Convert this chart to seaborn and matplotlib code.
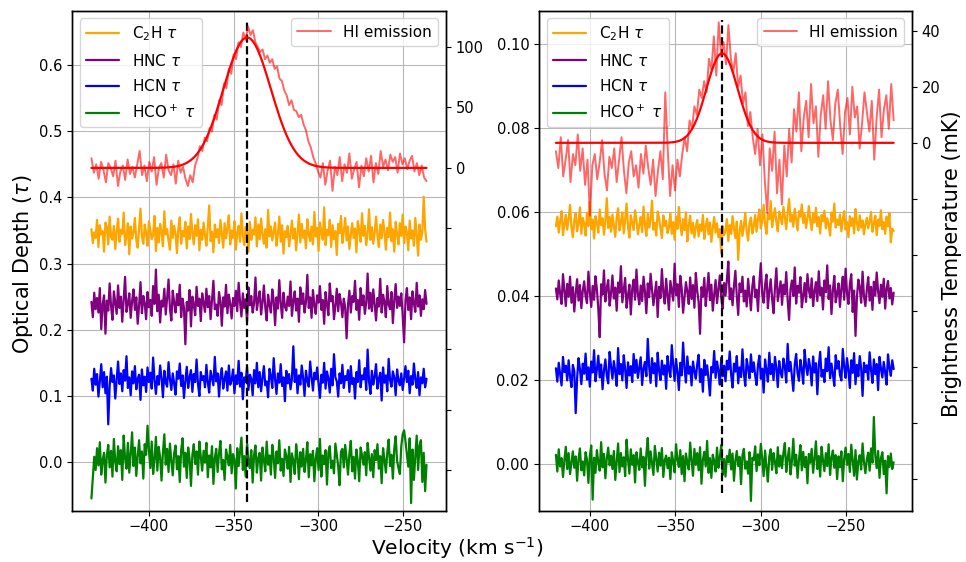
import numpy as np
import pandas as pd
import matplotlib
matplotlib.use("Agg")
import matplotlib.pyplot as plt
import seaborn as sns
from matplotlib.ticker import FuncFormatter, MultipleLocator

# ---------------------------------------------------------------------------
# Spectra. Optical depths are stored as integers: left source in units of
# 1e-3, right source in units of 1e-4. HI brightness temperature in mK.
# ---------------------------------------------------------------------------
VEL_LEFT = (-434.0, -236.0)     # first / last channel velocity (km/s)
VEL_RIGHT = (-420.0, -222.0)

C2H_LEFT = [
    352, 331, 347, 339, 366, 325, 358, 344, 349, 318, 362, 355, 329, 371, 340, 336, 357, 322, 348, 368,
    333, 351, 345, 377, 328, 342, 361, 314, 356, 338, 347, 369, 335, 324, 353, 383, 341, 330, 359, 346,
    327, 364, 350, 337, 343, 372, 319, 354, 332, 360, 348, 326, 379, 344, 352, 334, 321, 365, 339, 357,
    345, 316, 353, 370, 330, 349, 341, 363, 323, 356, 337, 375, 346, 329, 358, 342, 367, 320, 351, 336,
    362, 343, 327, 355, 388, 334, 348, 317, 359, 340, 352, 331, 366, 345, 324, 361, 338, 354, 373, 329,
    350, 339, 364, 321, 346, 357, 333, 376, 342, 328, 355, 347, 318, 363, 336, 351, 344, 370, 326, 359,
    337, 368, 345, 330, 352, 324, 381, 341, 356, 335, 348, 362, 327, 344, 371, 333, 358, 315, 349, 340,
    357, 326, 343, 365, 338, 353, 320, 347, 374, 332, 360, 339, 350, 323, 367, 345, 334, 356, 329, 378,
    341, 354, 319, 362, 347, 336, 385, 328, 351, 343, 366, 325, 358, 337, 349, 313, 360, 346, 372, 331,
    348, 369, 335, 356, 322, 344, 361, 339, 353, 317, 364, 350, 333, 376, 342, 357, 328, 345, 382, 336,
    355, 330, 347, 371, 343, 325, 359, 338, 366, 349, 321, 354, 340, 377, 334, 352, 318, 363, 345, 329,
    361, 342, 374, 331, 356, 347, 320, 365, 338, 350, 327, 369, 344, 312, 359, 336, 348, 401, 352, 333,
]
HNC_LEFT = [
    242, 219, 256, 231, 248, 226, 263, 201, 238, 252, 194, 244, 229, 270, 236, 215, 258, 241, 224, 267,
    233, 250, 212, 246, 280, 227, 239, 255, 218, 243, 261, 230, 249, 209, 237, 272, 225, 251, 240, 216,
    257, 234, 245, 221, 266, 239, 291, 228, 253, 211, 244, 235, 262, 223, 248, 276, 232, 214, 259, 241,
    226, 254, 237, 268, 219, 247, 233, 178, 242, 229, 260, 205, 250, 238, 222, 265, 236, 247, 213, 255,
    240, 227, 262, 234, 251, 216, 245, 274, 231, 238, 221, 257, 243, 206, 249, 235, 268, 225, 253, 239,
    217, 248, 236, 259, 228, 271, 242, 220, 255, 233, 246, 212, 264, 237, 251, 226, 240, 279, 230, 245,
    258, 223, 241, 267, 234, 214, 253, 238, 226, 261, 244, 207, 249, 232, 275, 240, 218, 256, 235, 229,
    250, 236, 273, 221, 243, 258, 229, 247, 212, 264, 239, 255, 226, 242, 283, 233, 249, 218, 260, 237,
    224, 252, 241, 266, 230, 245, 209, 257, 238, 222, 270, 243, 251, 216, 236, 262, 228, 254, 241, 219,
    247, 233, 187, 238, 259, 226, 251, 242, 274, 230, 245, 215, 263, 237, 252, 224, 241, 285, 232, 256,
    228, 261, 239, 214, 248, 235, 277, 226, 253, 242, 219, 266, 238, 231, 257, 210, 245, 269, 233, 250,
    236, 255, 222, 181, 244, 263, 230, 249, 216, 258, 240, 227, 271, 235, 252, 221, 246, 231, 260, 239,
]
HCN_LEFT = [
    126, 108, 141, 117, 133, 99, 122, 148, 113, 136, 104, 129, 57, 115, 142, 121, 131, 96, 125, 152,
    118, 134, 107, 139, 123, 160, 112, 128, 101, 137, 119, 145, 110, 126, 132, 94, 140, 116, 129, 106,
    143, 121, 135, 111, 158, 124, 103, 130, 117, 146, 127, 98, 138, 120, 114, 151, 125, 109, 134, 119,
    102, 137, 126, 149, 115, 131, 97, 123, 144, 112, 128, 139, 106, 133, 121, 155, 118, 100, 136, 124,
    130, 113, 147, 120, 105, 138, 127, 116, 159, 122, 134, 99, 129, 142, 111, 125, 137, 108, 146, 117,
    124, 140, 104, 131, 118, 153, 114, 135, 95, 128, 121, 144, 109, 132, 126, 101, 139, 119, 150, 113,
    136, 107, 127, 145, 116, 122, 98, 141, 130, 112, 157, 125, 103, 134, 120, 148, 115, 128, 92, 138,
    119, 133, 110, 126, 175, 121, 140, 104, 131, 117, 146, 127, 100, 138, 123, 114, 152, 129, 108, 135,
    125, 143, 118, 97, 132, 120, 150, 111, 137, 126, 105, 141, 116, 163, 128, 122, 99, 134, 119, 147,
    112, 130, 124, 139, 106, 145, 118, 127, 96, 136, 121, 154, 113, 131, 125, 142, 109, 170, 122, 103,
    138, 117, 129, 148, 111, 126, 135, 93, 143, 120, 131, 107, 156, 124, 114, 137, 128, 101, 140, 123,
    116, 134, 109, 127, 145, 121, 138, 104, 130, 117, 149, 125, 112, 136, 101, 128, 119, 141, 113, 126,
]
HCOP_LEFT = [
    -55, -24, 8, -12, 21, -5, 30, -19, 3, 14, -31, 10, 26, -8, 17, -22, 35, 1, -14, 24,
    -3, 18, -27, 40, 6, -10, 29, -16, 12, 45, -6, 22, -21, 9, 33, -2, 16, -25, 27, 11,
    55, 19, -9, 31, -18, 4, 38, -13, 23, 7, -28, 15, 42, -4, 20, -15, 28, 2, -20, 13,
    25, -11, 9, -30, 18, 36, -7, 14, -24, 22, 5, -36, 11, 27, -3, 16, -19, 31, 8, -13,
    17, -1, 29, -23, 10, -8, 24, -33, 6, 20, -15, 13, 32, -11, 3, -27, 19, 8, -5, 26,
    -17, 12, 4, -40, 21, -6, 15, 37, -12, 9, -22, 28, 1, -9, 18, -31, 11, 25, -16, 6,
    14, -28, 22, 3, -14, 31, -4, 10, -19, 26, 7, -24, 16, -2, 33, -13, 5, -21, 19, 9,
    -10, 23, -30, 13, 2, -18, 27, 8, -26, 15, -7, 20, -15, 4, 30, -23, 12, -5, 17, -29,
    6, 21, -12, 35, -22, 10, -3, 18, -34, 14, 24, -9, 2, -17, 28, 11, -6, -35, 16, 20,
    -8, 26, 5, -19, 13, 32, -14, 8, -25, 19, 1, -29, 22, 10, -4, 15, -20, 29, 7, -13,
    12, -23, 18, 3, 27, -10, 9, -32, 21, 4, -16, 14, 34, -6, 11, -25, 20, 39, 2, -9,
    -18, 24, 42, 48, 31, 12, -7, 36, -62, 19, -27, 9, 40, -12, 25, 33, -30, 14, -44, -4,
]
HI_LEFT = [
    8, -4, 3, -9, 5, -2, -12, 4, 0, -7, 6, -15, -3, 2, -10, 7, -5, 1, -8, 3,
    14, -6, 2, -11, 5, -3, 9, -14, 0, 4, -8, 11, -2, -6, 3, -13, 6, -4, 1, -9,
    -15, -6, -12, 2, 8,
    18, 14, 25, 22, 33, 30, 44, 40, 56, 52, 70, 66, 82, 78, 94, 90, 104, 100, 112, 106, 117, 110,
    114, 104, 100, 96, 98, 90, 93, 87, 90, 82, 84, 74, 72, 64, 60, 52, 56, 48, 47, 42, 44, 36,
    31, 22, 17, 9, 4, -3,
    -8, 4, -14, -2, 6, -19, 1, -6, 9, -11, 3, -4, 12, -9, -1, 5, -16, 2, -7, 8,
    -3, 10, -12, 4, -5, 14, 1, 7, -2, 11, 5, 9, -4, 12, 3, 8, -1, 6, 10, -3, 4, -6, 2, -8, -11,
]

C2H_RIGHT = [
    566, 589, 551, 578, 602, 545, 571, 593, 558, 584, 617, 563, 540, 580, 597, 554, 575, 611, 548, 586,
    572, 544, 598, 567, 624, 559, 582, 537, 590, 575, 551, 606, 569, 585, 546, 579, 633, 562, 588, 553,
    594, 568, 541, 587, 609, 556, 576, 599, 549, 583, 620, 565, 539, 592, 574, 557, 604, 581, 547, 570,
    588, 552, 613, 571, 543, 596, 563, 580, 627, 558, 574, 544, 601, 585, 561, 538, 592, 567, 579, 550,
    563, 597, 548, 576, 534, 589, 560, 612, 571, 545, 583, 557, 599, 530, 568, 591, 549, 574, 539, 565,
    581, 542, 570, 555, 593, 536, 566, 584, 547, 575, 529, 562, 588, 551, 573, 540, 559, 502, 566, 545,
    556, 583, 531, 569, 548, 590, 561, 538, 577, 486, 553, 579, 543, 566, 598, 555, 532, 574, 587, 549,
    567, 593, 553, 584, 606, 561, 579, 617, 572, 548, 596, 583, 626, 564, 590, 609, 576, 554, 601, 587,
    571, 612, 588, 559, 598, 631, 577, 594, 565, 608, 583, 556, 602, 589, 618, 574, 595, 562, 586, 614,
    580, 557, 597, 575, 610, 566, 588, 549, 593, 578, 603, 561, 585, 571, 544, 599, 577, 620, 563, 582,
    569, 594, 554, 581, 602, 558, 576, 540, 590, 567, 585, 549, 607, 574, 556, 592, 563, 580, 547, 571,
    586, 561, 578, 600, 553, 573, 591, 545, 582, 567, 604, 559, 576, 548, 589, 566, 597, 528, 560, 555,
]
HNC_RIGHT = [
    418, 392, 437, 405, 381, 452, 413, 376, 429, 398, 446, 384, 421, 363, 407, 440, 389, 426, 371, 412,
    435, 399, 383, 458, 410, 374, 424, 391, 447, 416, 369, 302, 428, 403, 461, 387, 419, 438, 377, 406,
    449, 394, 420, 365, 432, 408, 471, 385, 414, 443, 372, 401, 427, 356, 417, 439, 391, 463, 404, 380,
    425, 388, 446, 411, 359, 430, 397, 453, 416, 378, 405, 434, 350, 422, 395, 464, 409, 382, 441, 400,
    367, 436, 413, 389, 477, 402, 428, 374, 448, 418, 360, 397, 433, 410, 381, 444, 393, 426, 372, 455,
    412, 386, 310, 421, 398, 443, 376, 414, 455, 390, 427, 365, 403, 438, 383, 416, 449, 396, 370, 431,
    401, 439, 482, 392, 418, 378, 424, 460, 399, 355, 430, 409, 446, 387, 413, 375, 441, 402, 366, 423,
    447, 397, 415, 364, 432, 478, 405, 384, 426, 451, 371, 412, 440, 393, 359, 420, 466, 388, 411, 435,
    379, 427, 404, 457, 390, 343, 416, 437, 400, 468, 382, 424, 408, 445, 373, 399, 431, 386, 452, 414,
    396, 442, 376, 411, 433, 388, 459, 402, 420, 368, 437, 409, 473, 393, 425, 357, 414, 448, 385, 406,
    430, 374, 418, 446, 391, 465, 407, 381, 428, 452, 362, 413, 305, 397, 439, 421, 384, 458, 399, 376,
    415, 445, 389, 422, 367, 434, 401, 456, 411, 383, 427, 398, 441, 370, 417, 436, 394, 419, 380, 408,
]
HCN_RIGHT = [
    228, 196, 241, 213, 187, 255, 219, 234, 199, 247, 208, 183, 236, 221, 121, 204, 252, 226, 190, 239,
    215, 263, 201, 230, 184, 244, 218, 271, 197, 225, 258, 206, 237, 178, 223, 249, 210, 192, 267, 232,
    203, 245, 220, 186, 276, 214, 238, 199, 259, 226, 181, 242, 211, 233, 195, 262, 217, 248, 205, 229,
    254, 188, 227, 243, 209, 298, 231, 193, 252, 216, 240, 185, 265, 222, 200, 246, 213, 235, 179, 257,
    224, 207, 283, 236, 198, 250, 219, 176, 241, 211, 289, 229, 194, 256, 215, 232, 187, 244, 221, 203,
    238, 260, 195, 226, 172, 248, 212, 235, 201, 163, 231, 218, 269, 205, 244, 222, 189, 253, 209, 234,
    197, 246, 225, 268, 213, 182, 239, 220, 257, 192, 230, 207, 273, 216, 186, 250, 228, 204, 261, 219,
    242, 211, 188, 236, 258, 203, 227, 170, 249, 224, 196, 265, 214, 238, 200, 255, 229, 183, 245, 218,
    206, 251, 232, 194, 286, 221, 243, 209, 174, 237, 262, 216, 198, 248, 226, 191, 272, 234, 212, 250,
    229, 187, 256, 218, 240, 166, 233, 267, 208, 224, 195, 251, 221, 278, 204, 239, 214, 186, 259, 227,
    245, 212, 199, 274, 231, 205, 252, 223, 181, 247, 217, 264, 190, 236, 209, 257, 228, 162, 241, 219,
    235, 201, 266, 224, 193, 249, 214, 238, 176, 255, 227, 206, 243, 218, 189, 261, 230, 210, 247, 226,
]
HCOP_RIGHT = [
    22, -18, 35, -6, 14, -31, 9, 41, -12, 26, -24, 3, 30, -9, 18, -40, 12, 37, -15, 6,
    -27, 28, 10, -45, 19, 44, -85, 15, -21, 33, 4, -16, 52, -8, 24, -34, 13, 39, -3, 20,
    -12, 31, -38, 7, 49, -19, 26, -6, 16, -29, 58, 11, -23, 35, -2, 21, -44, 28, 5, -14,
    37, -8, 17, -52, 24, 62, -11, 30, 2, -26, 43, 13, -18, 27, -4, 38, -31, 9, 20, -10,
    15, -36, 28, 6, -20, 47, 11, -7, 33, -24, 19, -41, 25, 3, -13, 51, 8, -28, 36, -2,
    26, -15, 40, -47, 10, 29, -6, 55, -21, 14, -33, 22, 7, -18, 39, -9, 16, 45, -26, 12,
    -30, 19, 4, 34, -13, 25, -40, 8, 31, -5, 17, -48, 21, 36, -11, 6, -23, 28, -88, 15,
    9, 42, -17, 23, -3, 48, 13, -29, 32, -8, -42, 18, 35, -14, 26, 5, -22, 40, -6, 20,
    -10, 27, 50, -19, 14, 38, -25, 7, 60, -4, 22, -33, 11, 45, -15, 29, -7, 17, -46, 24,
    3, 36, -21, 12, 54, -12, 19, -30, 41, 8, -17, 26, -5, 47, -26, 15, 32, -9, 21, -36,
    18, -8, 30, -41, 13, 39, -2, 24, -19, 46, 10, -28, 33, -37, 6, 21, -13, 49, 4, -22,
    11, 27, -16, 37, 3, 112, 20, -10, 31, -33, 14, 28, -24, 8, -70, 19, -7, 25, -12, 4,
]
HI_RIGHT = [
    -3, -9, 2, -12, -6, 1, -14, -4, -8, 3, -10, -2, -15, -6,
    -26, -8,
    -4, -13, -7, 1, -11, -17, -5, -9, -2, -14, -6, 2, -10, -18, -7, -3, -12, -8, -16, -4,
    -11, -1, -9, -15, -6, -19, -10, -3, -13,
    18, -2, -19, -8, -17, -6, -12,
    -4, 2, -3, 8, 5, 13, 10, 19, 16, 22, 18, 30, 26, 38, 24, 43, 31, 36, 28, 42,
    30, 25, 32, 20, 24, 14, 18, 6, 11, 2, -4, 5,
    -8, 3, -14, -25, -2, -10, 4, -18, -6, -22, -1, -12, 5, -7,
    12, 4, 18, -3, 9, 15, 2, 21, 7, 13, -5, 10, 17, 5, 22, 8, 1, 14, 19, 6,
    -4, 11, 16, 3, 20, 9, 13, -2, 7, 18, 11, 4, 15, -6, 9, 19, 2, 12, 17, 5, 21, 8,
]

# Gaussian fits to the HI profiles: amplitude (mK), centre (km/s), sigma (km/s)
HI_FIT_LEFT = (108.0, -342.0, 14.0)
HI_FIT_RIGHT = (32.0, -322.6, 9.1)

SPECIES = ["C$_2$H $\\tau$", "HNC $\\tau$", "HCN $\\tau$", "HCO$^+$ $\\tau$"]
COLORS = ["orange", "purple", "blue", "green"]

# ---------------------------------------------------------------------------
sns.set_style("ticks")
plt.rcParams["font.family"] = ["DejaVu Sans"]
plt.rcParams["axes.edgecolor"] = "black"
plt.rcParams["xtick.color"] = "black"
plt.rcParams["ytick.color"] = "black"
plt.rcParams["text.color"] = "black"
plt.rcParams["axes.labelcolor"] = "black"


def channels(vrange, n):
    return np.linspace(vrange[0], vrange[1], n)


def draw_panel(ax, vrange, tau_lists, tau_unit, hi, fit, vline_span,
               xlim, ylim, tlim, tstep):
    frames = []
    for name, vals in zip(SPECIES, tau_lists):
        v = channels(vrange, len(vals))
        frames.append(pd.DataFrame({"velocity": v,
                                    "tau": np.asarray(vals) * tau_unit,
                                    "species": name}))
    df = pd.concat(frames, ignore_index=True)
    sns.lineplot(data=df, x="velocity", y="tau", hue="species",
                 hue_order=SPECIES, palette=COLORS, estimator=None,
                 sort=False, linewidth=1.6, ax=ax)

    amp, cen, sig = fit
    ax.vlines(cen, vline_span[0], vline_span[1], colors="black",
              linestyles="--", linewidth=1.6, zorder=5)

    ax.set_xlim(*xlim)
    ax.set_ylim(*ylim)
    ax.set_xlabel("")
    ax.set_ylabel("")
    ax.grid(True, color="#b8b8b8", linewidth=0.8)
    ax.xaxis.set_major_locator(MultipleLocator(50))
    ax.tick_params(labelsize=10.5, direction="out", length=3.5, width=0.8)
    ax.tick_params(axis="x", pad=2.5)
    for s in ax.spines.values():
        s.set_linewidth(1.0)
        s.set_color("black")
    leg = ax.legend(loc="upper left", fontsize=11, framealpha=0.8,
                    edgecolor="#cccccc", handlelength=2.2, labelspacing=0.62)
    for line in leg.get_lines():
        line.set_linewidth(1.6)

    tw = ax.twinx()
    vh = channels(vrange, len(hi))
    hi_df = pd.DataFrame({"velocity": vh, "T": hi})
    sns.lineplot(data=hi_df, x="velocity", y="T", color="red", alpha=0.6,
                 linewidth=1.4, estimator=None, sort=False,
                 label="HI emission", ax=tw)
    fit_df = pd.DataFrame({"velocity": vh,
                           "T": amp * np.exp(-0.5 * ((vh - cen) / sig) ** 2)})
    sns.lineplot(data=fit_df, x="velocity", y="T", color="red",
                 linewidth=1.6, estimator=None, sort=False, ax=tw)
    tw.set_ylim(*tlim)
    tw.set_ylabel("")
    tw.yaxis.set_major_locator(MultipleLocator(tstep))
    tw.yaxis.set_major_formatter(
        FuncFormatter(lambda y, _: f"{y:.0f}" if y >= -1e-9 else ""))
    tw.tick_params(labelsize=10.5, direction="out", length=3.5, width=0.8)
    tw.grid(False)
    for s in tw.spines.values():
        s.set_linewidth(1.0)
        s.set_color("black")
    tw.legend(loc="upper right", fontsize=11, framealpha=0.8,
              edgecolor="#cccccc", handlelength=2.2)
    return tw


fig = plt.figure(figsize=(9.66, 5.62), dpi=100)
ax_l = fig.add_axes([0.0745, 0.0907, 0.387, 0.890])
ax_r = fig.add_axes([0.558, 0.0907, 0.386, 0.890])

draw_panel(ax_l, VEL_LEFT, [C2H_LEFT, HNC_LEFT, HCN_LEFT, HCOP_LEFT], 1e-3,
           HI_LEFT, HI_FIT_LEFT, (-0.060, 0.665),
           xlim=(-445.5, -224.6), ylim=(-0.074, 0.682),
           tlim=(-284, 130), tstep=50)
ax_l.yaxis.set_major_locator(MultipleLocator(0.1))

draw_panel(ax_r, VEL_RIGHT, [C2H_RIGHT, HNC_RIGHT, HCN_RIGHT, HCOP_RIGHT], 1e-4,
           HI_RIGHT, HI_FIT_RIGHT, (-0.0069, 0.1057),
           xlim=(-429.9, -211.3), ylim=(-0.0112, 0.1079),
           tlim=(-131.4, 47.1), tstep=20)
ax_r.yaxis.set_major_locator(MultipleLocator(0.02))

fig.text(0.024, 0.53, "Optical Depth ($\\tau$)", rotation=90,
         ha="center", va="center", fontsize=15)
fig.text(0.473, 0.002, "Velocity (km s$^{-1}$)", ha="center", va="bottom",
         fontsize=14.5)
fig.text(0.985, 0.53, "Brightness Temperature (mK)", rotation=90,
         ha="center", va="center", fontsize=15)

fig.savefig("out.png", dpi=100)
